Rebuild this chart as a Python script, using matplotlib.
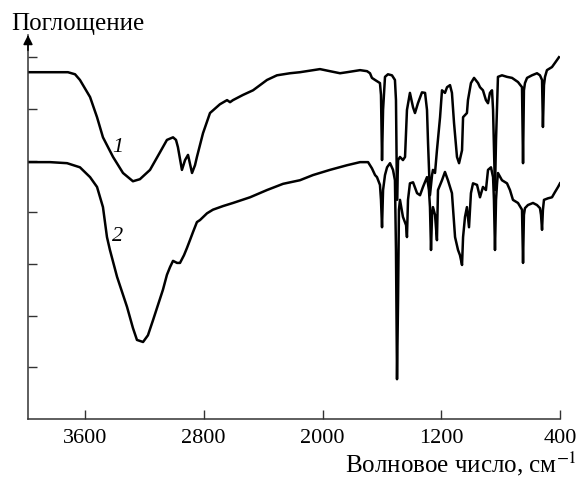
import matplotlib
matplotlib.use("Agg")
import matplotlib.pyplot as plt

plt.rcParams['font.family'] = ['Liberation Serif', 'DejaVu Serif']
plt.rcParams['mathtext.fontset'] = 'stix'

# кривая 1: волновое число (см-1) и поглощение (отн. ед.)
wn_1 = [3984, 3715, 3667, 3634, 3566, 3519, 3479, 3411, 3344, 3277, 3230, 3162, 3095, 3048,
        3007, 2987, 2974, 2947, 2926, 2906, 2879, 2859, 2846, 2805, 2758, 2691, 2643, 2623,
        2603, 2536, 2468, 2374, 2307, 2219, 2152, 2017, 1950, 1882, 1835, 1747, 1700, 1680,
        1667, 1646, 1613, 1606, 1599, 1592, 1579, 1559, 1532, 1512, 1505, 1498, 1491, 1478,
        1458, 1444, 1431, 1411, 1390, 1377, 1357, 1330, 1309, 1296, 1289, 1276, 1262, 1256,
        1242, 1229, 1208, 1195, 1175, 1161, 1141, 1128, 1114, 1094, 1080, 1060, 1053, 1027,
        1020, 1000, 979, 952, 939, 919, 899, 885, 872, 858, 851, 838, 831, 818, 791, 757,
        723, 683, 656, 649, 643, 636, 622, 589, 555, 535, 521, 515, 508, 501, 488, 454,
        434, 407]
abs_1 = [6.71, 6.71, 6.67, 6.56, 6.23, 5.84, 5.45, 5.07, 4.76, 4.60, 4.64, 4.82, 5.16, 5.40,
         5.45, 5.40, 5.26, 4.82, 5.01, 5.11, 4.76, 4.91, 5.07, 5.53, 5.92, 6.09, 6.17, 6.13,
         6.17, 6.27, 6.36, 6.56, 6.65, 6.69, 6.71, 6.77, 6.73, 6.69, 6.71, 6.75, 6.73, 6.69,
         6.60, 6.56, 6.50, 6.27, 5.01, 5.98, 6.62, 6.67, 6.65, 6.56, 6.17, 4.24, 5.01, 5.07,
         5.01, 5.07, 5.98, 6.31, 6.03, 5.92, 6.11, 6.32, 6.31, 5.98, 5.34, 4.33, 4.72, 4.82,
         4.76, 5.20, 5.84, 6.36, 6.31, 6.42, 6.46, 6.31, 5.73, 5.07, 4.95, 5.20, 5.84, 5.92,
         6.17, 6.50, 6.60, 6.50, 6.42, 6.36, 6.17, 6.11, 6.31, 6.36, 5.98, 4.43, 5.40, 6.62,
         6.65, 6.62, 6.60, 6.52, 6.42, 4.95, 6.36, 6.50, 6.60, 6.65, 6.69, 6.65, 6.56, 5.65,
         6.46, 6.62, 6.75, 6.81, 6.89, 7.00]

# кривая 2
wn_2 = [3984, 3836, 3721, 3634, 3566, 3519, 3479, 3452, 3432, 3384, 3317, 3277, 3250, 3209,
        3176, 3142, 3108, 3075, 3048, 3027, 3007, 2980, 2960, 2933, 2913, 2893, 2872, 2846,
        2825, 2778, 2738, 2670, 2603, 2488, 2374, 2266, 2152, 2064, 1950, 1835, 1747, 1693,
        1667, 1646, 1633, 1613, 1606, 1599, 1592, 1579, 1565, 1545, 1525, 1512, 1505, 1498,
        1491, 1485, 1478, 1458, 1437, 1431, 1424, 1411, 1390, 1363, 1343, 1323, 1296, 1283,
        1276, 1269, 1262, 1256, 1242, 1229, 1222, 1195, 1175, 1155, 1128, 1107, 1087, 1074,
        1060, 1053, 1040, 1027, 1013, 1000, 986, 959, 939, 919, 899, 885, 865, 851, 845, 838,
        831, 824, 818, 791, 757, 737, 717, 683, 656, 649, 643, 636, 616, 582, 555, 535, 528,
        521, 515, 508, 481, 454, 434, 413, 400]
abs_2 = [4.97, 4.97, 4.95, 4.87, 4.68, 4.49, 4.10, 3.52, 3.27, 2.75, 2.17, 1.76, 1.53, 1.49,
         1.62, 1.91, 2.21, 2.50, 2.79, 2.94, 3.06, 3.02, 3.02, 3.17, 3.31, 3.46, 3.62, 3.81,
         3.85, 3.98, 4.05, 4.12, 4.18, 4.29, 4.43, 4.55, 4.62, 4.72, 4.82, 4.91, 4.97, 4.97,
         4.85, 4.72, 4.68, 4.53, 4.24, 3.71, 4.43, 4.72, 4.87, 4.95, 4.82, 4.62, 3.27, 0.77,
         2.30, 4.05, 4.24, 3.91, 3.75, 3.52, 4.24, 4.56, 4.58, 4.37, 4.33, 4.49, 4.68, 4.43,
         4.10, 3.27, 3.95, 4.10, 3.95, 3.46, 4.43, 4.62, 4.78, 4.62, 4.37, 3.52, 3.27, 3.17,
         2.98, 3.52, 3.91, 4.10, 3.71, 4.37, 4.56, 4.53, 4.29, 4.49, 4.43, 4.82, 4.87, 4.68,
         4.24, 3.27, 4.24, 4.56, 4.76, 4.62, 4.56, 4.43, 4.24, 4.18, 4.05, 3.02, 3.95, 4.08,
         4.14, 4.18, 4.14, 4.08, 3.95, 3.66, 4.05, 4.24, 4.27, 4.29, 4.39, 4.49, 4.56]

x_ticks = [3600, 2800, 2000, 1200, 400]
y_ticks = [1, 2, 3, 4, 5, 6, 7]

fig = plt.figure(figsize=(5.78, 4.78), dpi=100)
ax = fig.add_axes([28 / 578, 59 / 478, 532 / 578, 384 / 478])

ax.plot(wn_1, abs_1, color='black', lw=1.8)
ax.plot(wn_2, abs_2, color='black', lw=1.8)

ax.set_xlim(3984, 400)
ax.set_ylim(0, 7.43)

ax.set_xticks(x_ticks)
ax.set_xticklabels([str(t) for t in x_ticks])
ax.set_yticks(y_ticks)
ax.set_yticklabels([])
ax.tick_params(axis='both', direction='in', length=6.5, width=1.0, color='#333333',
               labelsize=16, pad=7)

for side in ['top', 'right']:
    ax.spines[side].set_visible(False)
for side in ['left', 'bottom']:
    ax.spines[side].set_linewidth(1.1)
    ax.spines[side].set_color('#333333')

# стрелка оси ординат
ax.annotate('', xy=(0, 1.0), xytext=(0, 0.96), xycoords='axes fraction',
            arrowprops=dict(arrowstyle='-|>', color='black', lw=1.1,
                            mutation_scale=14, shrinkA=0, shrinkB=0))

ax.text(3378, 5.26, '1', fontsize=16, fontstyle='italic', ha='center', va='center')
ax.text(3384, 3.54, '2', fontsize=16, fontstyle='italic', ha='center', va='center')

fig.text(11 / 578, 1 - 30 / 478, 'Поглощение', fontsize=18, ha='left', va='baseline')
fig.text(577 / 578, 1 - 472 / 478, 'Волновое число, см$^{-1}$', fontsize=18,
         ha='right', va='baseline')

fig.savefig('out.png', dpi=100)
